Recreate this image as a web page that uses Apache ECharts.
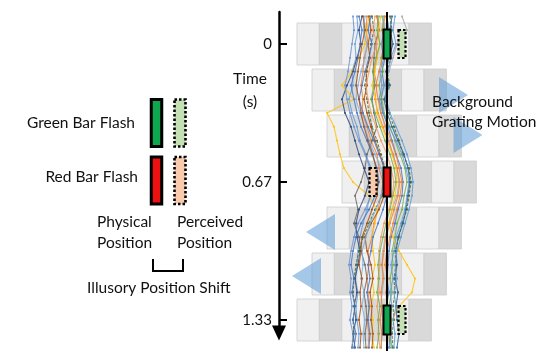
<!DOCTYPE html>
<html><head><meta charset="utf-8">
<script src="https://cdn.jsdelivr.net/npm/echarts@6/dist/echarts.min.js"></script>
<style>html,body{margin:0;padding:0;background:#fff}#c{width:540px;height:351px}</style>
</head><body><div id="c"></div>
<script>
// ---------- data ----------
const timeTicks = [0, 0.6667, 1.3333];
const timeTickLabels = ['0', '0.67', '1.33'];
const sampleTimes = [-0.133,-0.067,0,0.067,0.133,0.2,0.267,0.333,0.4,0.467,0.533,0.6,0.667,0.733,0.8,0.867,0.933,1.0,1.067,1.133,1.2,1.267,1.333,1.4,1.467];
const traceColors = ['#5b9bd5','#4472c4','#ed7d31','#ffc000','#a5a5a5','#636363','#264478','#70ad47','#43682b','#43682b','#9e480e','#5b9bd5','#4472c4','#ed7d31','#ffc000','#7cafdd','#f1975a','#255e91','#4472c4','#5b9bd5','#ed7d31','#9e480e','#70ad47','#698ed0'];
const trace1  = [-3.0,-2.9,-3.2,-3.1,-3.5,-3.4,-3.8,-3.5,-3.0,-2.7,-2.1,-1.6,-1.5,-1.7,-2.0,-2.4,-2.7,-2.9,-3.0,-3.2,-2.9,-3.1,-3.0,-2.8,-2.9];
const trace2  = [0.0,0.2,-0.1,-0.2,-0.5,-0.3,-0.6,-0.4,0.1,0.5,0.9,1.4,1.6,1.5,1.1,0.8,0.4,0.2,0.1,0.0,0.2,-0.1,0.1,0.3,0.2];
const trace3  = [-2.0,-2.1,-1.9,-2.3,-2.4,-2.6,-2.4,-2.5,-2.0,-1.6,-1.0,-0.8,-0.4,-0.6,-0.9,-1.3,-1.5,-1.9,-1.8,-2.0,-1.9,-1.7,-2.0,-1.8,-1.9];
const trace4  = [-1.8,-2.0,-2.2,-2.8,-3.5,-4.5,-3.3,-6.0,-5.3,-5.0,-4.7,-4.3,-3.4,-1.8,-1.0,-1.2,-1.5,-1.4,-1.2,-1.5,-1.3,-1.6,-1.4,-1.5,-1.3];
const trace5  = [1.5,2.0,1.0,0.6,0.2,-0.3,-0.8,-0.6,-0.2,0.2,0.6,1.0,1.2,1.0,0.5,0.2,-0.2,-0.4,-0.5,-0.3,-0.5,-0.6,-0.4,-0.5,-0.6];
const trace6  = [-1.0,-0.8,-1.2,-1.3,-1.4,-1.2,-1.5,-1.3,-1.0,-1.5,-2.0,-2.2,-2.6,-3.2,-2.9,-3.3,-2.8,-2.6,-2.2,-2.0,-2.3,-2.1,-2.0,-2.2,-2.1];
const trace7  = [-2.5,-2.8,-2.6,-3.0,-3.4,-4.0,-4.5,-4.2,-3.6,-3.2,-2.8,-2.3,-1.8,-2.2,-2.8,-3.1,-3.0,-2.7,-2.9,-3.2,-3.0,-3.3,-3.1,-3.4,-3.2];
const trace8  = [-0.3,-0.5,-0.2,-0.6,-0.4,-0.8,-0.5,-0.3,0.3,0.8,1.3,1.8,2.0,1.7,1.5,1.0,0.8,0.5,0.6,0.3,0.5,0.2,0.4,0.3,0.5];
const trace9  = [0.3,0.5,0.2,0.4,0.0,0.3,-0.2,0.2,0.7,1.2,1.6,2.2,2.4,2.2,2.0,1.5,1.2,0.8,0.9,0.7,0.8,0.6,0.7,0.5,0.6];
const trace10 = [-1.5,-1.3,-1.6,-1.8,-2.0,-2.2,-2.0,-1.8,-1.5,-1.0,-0.6,-0.2,0.0,-0.5,-1.2,-1.8,-2.4,-2.8,-3.1,-3.3,-3.4,-3.2,-3.4,-3.3,-3.5];
const trace11 = [-1.8,-1.6,-1.9,-1.7,-2.1,-2.0,-2.3,-2.0,-1.6,-1.2,-0.7,-0.3,-0.1,-0.3,-0.8,-1.6,-2.2,-2.0,-1.6,-1.4,-1.7,-1.5,-1.6,-1.4,-1.5];
const trace12 = [-0.5,-0.2,-0.6,-0.3,-0.7,-0.5,-0.8,-0.4,0.2,0.9,1.5,1.9,2.2,2.0,1.8,1.4,0.9,0.7,0.4,0.6,0.3,0.5,0.2,0.4,0.3];
const trace13 = [-2.8,-2.5,-2.7,-2.9,-3.2,-3.6,-3.3,-3.0,-2.6,-2.0,-1.5,-1.0,-0.8,-1.2,-1.8,-2.6,-3.1,-3.4,-3.6,-3.3,-3.5,-3.2,-3.4,-3.1,-3.3];
const trace14 = [-1.0,-0.8,-1.1,-1.0,-1.3,-1.0,-1.2,-0.9,-0.4,0.1,0.6,1.0,1.3,1.1,0.7,0.3,-0.1,-0.3,-0.5,-0.4,-0.6,-0.5,-0.7,-0.5,-0.6];
const trace15 = [-0.6,-0.9,-0.7,-1.0,-1.2,-1.5,-1.1,-1.0,-0.5,0.0,0.5,0.9,1.0,0.8,0.5,0.2,0.6,1.2,2.0,2.8,2.5,1.2,0.5,0.2,0.0];
const trace16 = [-2.2,-2.4,-2.0,-2.2,-2.6,-2.9,-3.1,-2.7,-2.2,-1.8,-1.2,-0.6,-0.3,-0.6,-1.1,-1.7,-2.1,-2.5,-2.4,-2.6,-2.3,-2.5,-2.2,-2.4,-2.3];
const trace17 = [-1.2,-1.4,-1.0,-1.5,-1.8,-2.1,-1.9,-1.6,-1.1,-0.6,0.0,0.4,0.7,0.5,0.2,-0.3,-0.6,-0.8,-0.7,-0.9,-0.8,-1.0,-0.8,-0.9,-0.7];
const trace18 = [0.5,0.3,0.6,0.2,-0.1,0.2,-0.3,0.0,0.5,1.1,1.7,2.1,2.3,2.1,1.9,1.6,1.1,0.9,1.0,0.8,1.1,0.9,1.0,1.2,1.0];
const trace19 = [-1.6,-1.9,-1.5,-1.8,-2.2,-2.5,-2.8,-2.4,-1.9,-1.3,-0.8,-0.2,0.2,0.0,-0.4,-0.9,-1.4,-1.6,-1.9,-1.7,-2.0,-1.8,-1.9,-1.7,-1.8];
const trace20 = [0.8,0.6,0.9,0.4,0.1,-0.2,-0.1,0.3,0.9,1.5,2.0,2.4,2.6,2.5,2.2,1.8,1.4,1.0,0.8,1.0,0.7,0.9,0.6,0.8,0.7];
const trace21 = [-0.2,-0.4,0.0,-0.5,-0.8,-1.1,-0.9,-0.6,-0.1,0.4,0.9,1.2,1.5,1.3,1.0,0.6,0.3,0.0,-0.2,0.1,-0.1,0.0,-0.2,0.1,0.0];
const trace22 = [-2.4,-2.2,-2.5,-2.7,-2.9,-3.1,-2.8,-2.6,-2.3,-1.9,-1.4,-1.1,-0.9,-1.0,-1.5,-2.0,-2.5,-2.6,-2.8,-2.5,-2.7,-2.6,-2.8,-2.6,-2.7];
const trace23 = [-0.8,-1.0,-0.7,-1.1,-1.4,-1.3,-1.6,-1.2,-0.7,-0.2,0.3,0.7,0.9,0.6,0.3,-0.1,-0.4,-0.7,-0.9,-0.8,-1.0,-0.7,-0.9,-0.8,-1.0];
const trace24 = [-3.4,-3.3,-3.5,-3.7,-3.9,-4.2,-4.0,-3.7,-3.3,-2.8,-2.2,-1.7,-1.2,-1.6,-2.2,-2.9,-3.3,-3.6,-3.8,-3.6,-3.7,-3.5,-3.7,-3.4,-3.5];
const traces = [trace1,trace2,trace3,trace4,trace5,trace6,trace7,trace8,trace9,trace10,trace11,trace12,trace13,trace14,trace15,trace16,trace17,trace18,trace19,trace20,trace21,trace22,trace23,trace24];

const gratingRowTimes = [0, 0.2222, 0.4444, 0.6667, 0.8889, 1.1111, 1.3333];
const gratingRowShift = [0, 1.5, 3.0, 4.5, 3.0, 1.5, 0];
const gratingBarsPerRow = 6;

const physicalPosition = 0;
const flashTimes = [0, 0.6667, 1.3333];
const flashKinds = ['green', 'red', 'green'];
const perceivedPositions = [1.5, -1.4, 1.5];

const motionArrowX = [6.65, 8.1, -6.65, -8.05];
const motionArrowT = [0.246, 0.44, 0.908, 1.121];
const motionArrowDir = ['right', 'right', 'left', 'left'];

const keyKinds = ['green', 'red'];

// ---------- layout (pixels) ----------
const W = 540, H = 351;
const originY = 44, pxPerSec = 207;
const originX = 387, pxPerUnit = 10;
const rowHalfH = 21 / pxPerSec;
const barW = 2.24, gratingStart = -9.0;
const keyPhysX = (156.5 - originX) / pxPerUnit, keyPercX = (180 - originX) / pxPerUnit;
const keyT = [(123 - originY) / pxPerSec, (180.5 - originY) / pxPerSec];

const fillPhys = { green: '#0ea64e', red: '#ee1111' };
const fillPerc = { green: '#c5e0b4', red: '#f8cbad' };
const FONT = 'Lato';

const chart = echarts.init(document.getElementById('c'), null, { renderer: 'canvas' });

const gratingData = [];
gratingRowTimes.forEach((t, r) => {
  for (let s = 0; s < gratingBarsPerRow; s++) {
    const xl = gratingStart + gratingRowShift[r] + s * barW;
    gratingData.push([xl, t, xl + barW, s % 2]);
  }
});

const series = [];
series.push({
  type: 'custom', xAxisIndex: 0, yAxisIndex: 0, z: 1, silent: true, clip: false,
  data: gratingData,
  renderItem: (params, api) => {
    const p1 = api.coord([api.value(0), api.value(1) - rowHalfH]);
    const p2 = api.coord([api.value(2), api.value(1) + rowHalfH]);
    return {
      type: 'rect',
      shape: { x: p1[0], y: p1[1], width: p2[0] - p1[0], height: p2[1] - p1[1] },
      style: { fill: api.value(3) ? '#d9d9d9' : '#f0f0f0', stroke: '#cdcdcd', lineWidth: 0.8 }
    };
  }
});

traces.forEach((tr, i) => {
  series.push({
    type: 'line', xAxisIndex: 0, yAxisIndex: 0, z: 2, silent: true,
    data: sampleTimes.map((t, k) => [tr[k], t]),
    showSymbol: true, symbol: 'circle', symbolSize: 2.2,
    lineStyle: { color: traceColors[i], width: 1.1, opacity: 0.8, type: (i === 8 || i === 9) ? [3, 1.5] : 'solid' },
    itemStyle: { color: traceColors[i], opacity: 0.8 },
    animation: false
  });
});

series.push({
  type: 'line', xAxisIndex: 0, yAxisIndex: 0, z: 3, silent: true, showSymbol: false,
  data: [[physicalPosition, (12 - originY) / pxPerSec], [physicalPosition, (H - originY) / pxPerSec]],
  lineStyle: { color: '#000', width: 2 }, animation: false
});

series.push({
  type: 'scatter', xAxisIndex: 0, yAxisIndex: 0, z: 4, silent: true,
  data: motionArrowX.map((x, i) => ({ value: [x, motionArrowT[i]], symbolRotate: motionArrowDir[i] === 'right' ? -90 : 90 })),
  symbol: 'triangle', symbolSize: [36, 29],
  itemStyle: { color: 'rgba(91,155,213,0.55)', opacity: 1 }, animation: false
});

// flash bars (custom rects)
function barSeries(items, wPx, hPx, dashed, lw) {
  return {
    type: 'custom', xAxisIndex: 0, yAxisIndex: 0, z: 5, silent: true, clip: false,
    data: items,
    renderItem: (params, api) => {
      const c = api.coord([api.value(0), api.value(1)]);
      const fill = items[params.dataIndex][2];
      return {
        type: 'rect',
        shape: { x: c[0] - wPx / 2, y: c[1] - hPx / 2, width: wPx, height: hPx },
        style: { fill, stroke: '#000', lineWidth: lw, lineDash: dashed ? [2.5, 2] : null }
      };
    }
  };
}
series.push(barSeries(flashTimes.map((t, i) => [physicalPosition, t, fillPhys[flashKinds[i]]]), 7, 29, false, 2));
series.push(barSeries(flashTimes.map((t, i) => [perceivedPositions[i], t, fillPerc[flashKinds[i]]]), 7, 28, true, 2.2));
series.push(barSeries(keyKinds.map((k, i) => [keyPhysX, keyT[i], fillPhys[k]]), 10.5, 47, false, 3));
series.push(barSeries(keyKinds.map((k, i) => [keyPercX, keyT[i], fillPerc[k]]), 11, 47, true, 2.6));

function txt(x, y, text, align) {
  return { type: 'text', x, y, z: 100, style: { text, fontSize: 15.5, fontFamily: FONT, fill: '#111', align: align || 'left', verticalAlign: 'middle' } };
}

const option = {
  animation: false,
  backgroundColor: '#fff',
  grid: [
    { left: 0, top: 0, width: W, height: H },
    { left: 279, top: 12, width: 10, height: 321 }
  ],
  xAxis: [
    { gridIndex: 0, type: 'value', min: -originX / pxPerUnit, max: (W - originX) / pxPerUnit, show: false },
    { gridIndex: 1, type: 'value', min: 0, max: 1, show: false }
  ],
  yAxis: [
    { gridIndex: 0, type: 'value', inverse: true, min: -originY / pxPerSec, max: (H - originY) / pxPerSec, show: false },
    { gridIndex: 1, type: 'value', inverse: true, min: (12 - originY) / pxPerSec, max: (333 - originY) / pxPerSec,
      axisLine: { show: true, symbol: ['triangle', 'none'], symbolSize: [14, 15], lineStyle: { color: '#000', width: 2.5 } },
      axisTick: { show: true, inside: true, length: 8, customValues: timeTicks, lineStyle: { color: '#000', width: 2 } },
      axisLabel: { show: true, customValues: timeTicks, margin: 7, color: '#111', fontSize: 15, fontFamily: FONT,
        formatter: v => timeTickLabels[timeTicks.indexOf(v)] },
      splitLine: { show: false }
    }
  ],
  series,
  graphic: [
    txt(250, 79, 'Time', 'center'),
    txt(250, 102, '(s)', 'center'),
    txt(135, 123, 'Green Bar Flash', 'right'),
    txt(138, 177, 'Red Bar Flash', 'right'),
    txt(97, 222, 'Physical'),
    txt(97, 243, 'Position'),
    txt(177, 222, 'Perceived'),
    txt(177, 243, 'Position'),
    txt(87, 288, 'Illusory Position Shift'),
    txt(432, 102, 'Background'),
    txt(432, 122, 'Grating Motion'),
    { type: 'polyline', z: 100, shape: { points: [[153, 259], [153, 271], [183, 271], [183, 259]] }, style: { stroke: '#000', lineWidth: 2, fill: null } }
  ]
};
chart.setOption(option);
</script></body></html>
